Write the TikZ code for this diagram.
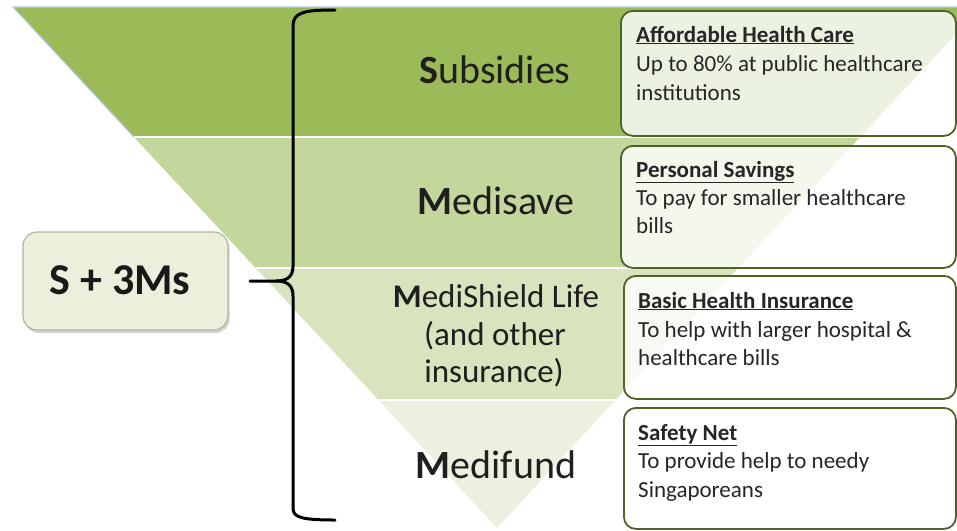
\documentclass[tikz,border=0pt]{standalone}
\usepackage{fontspec}
\setmainfont{Carlito}
\usetikzlibrary{shadows}
\definecolor{bandA}{HTML}{9BBB59}
\definecolor{bandB}{HTML}{C3D69B}
\definecolor{bandC}{HTML}{D7E4BD}
\definecolor{bandD}{HTML}{EBF1DE}
\definecolor{boxline}{HTML}{4F6228}
\definecolor{topline}{HTML}{B4C7E7}
\definecolor{smbox}{HTML}{EAF0DC}
\definecolor{smline}{HTML}{AEB6A0}
\begin{document}
\begin{tikzpicture}[x=1pt,y=-1pt,
  sep/.style={white,line width=2pt},
  rbox/.style={draw=boxline,line width=1.8pt,rounded corners=12pt,fill=white,fill opacity=0.82,text opacity=1,inner sep=0pt,anchor=north west},
  btxt/.style={font=\fontsize{23}{28}\selectfont,inner sep=0pt,anchor=base west,text=black!85},
  bigl/.style={font=\fontsize{40}{48}\selectfont,inner sep=0pt,anchor=base,text=black!88},
  midl/.style={font=\fontsize{33}{40}\selectfont,inner sep=0pt,anchor=base,text=black!88},
  bracestyle/.style={black,line width=3pt,line cap=round,line join=round}]
\useasboundingbox (0,0) rectangle (957,530);
\clip (0,0) rectangle (957,530);
% funnel bands
\fill[bandA] (13,7) -- (981,7) -- (860.1,137) -- (133.9,137) -- cycle;
\fill[bandB] (133.9,137) -- (860.1,137) -- (738.3,268) -- (255.7,268) -- cycle;
\fill[bandC] (255.7,268) -- (738.3,268) -- (615.5,400) -- (378.5,400) -- cycle;
\fill[bandD] (378.5,400) -- (615.5,400) -- (497,528) -- cycle;
\draw[sep] (133.9,137) -- (860.1,137);
\draw[sep] (255.7,268) -- (738.3,268);
\draw[sep] (378.5,400) -- (615.5,400);
\draw[topline,line width=1.2pt] (133.9,137) -- (13,7) -- (957,7);
% band labels
\node[bigl] (sub) at (495,83) {\textbf{S}ubsidies};
\node[bigl] (med) at (496,214) {\textbf{M}edisave};
\node[midl] (msa) at (496,307) {\textbf{M}ediShield Life};
\node[midl] (msb) at (495,345) {(and other};
\node[midl] (msc) at (494,382) {insurance)};
\node[bigl] (mfd) at (496,478) {\textbf{M}edifund};
% right boxes
\node[rbox,minimum width=335pt,minimum height=125pt] (boxa) at (620,10) {};
\node[rbox,minimum width=335pt,minimum height=122pt] (boxb) at (620,145) {};
\node[rbox,minimum width=332pt,minimum height=123pt] (boxc) at (623,275) {};
\node[rbox,minimum width=332pt,minimum height=121pt] (boxd) at (623,407) {};
\node[btxt] (ta1) at (636,42) {\underline{\textbf{Affordable Health Care}}};
\node[btxt] (ta2) at (636,71) {Up to 80\% at public healthcare};
\node[btxt] (ta3) at (636,100) {institutions};
\node[btxt] (tb1) at (636,177) {\underline{\textbf{Personal Savings}}};
\node[btxt] (tb2) at (636,205) {To pay for smaller healthcare};
\node[btxt] (tb3) at (636,233) {bills};
\node[btxt] (tc1) at (638,308) {\underline{\textbf{Basic Health Insurance}}};
\node[btxt] (tc2) at (638,337) {To help with larger hospital \&};
\node[btxt] (tc3) at (638,365) {healthcare bills};
\node[btxt] (td1) at (638,440) {\underline{\textbf{Safety Net}}};
\node[btxt] (td2) at (638,468) {To provide help to needy};
\node[btxt] (td3) at (638,497) {Singaporeans};
% S + 3Ms box
\node[draw=smline,line width=1.2pt,fill=smbox,rounded corners=14pt,minimum width=205pt,minimum height=98pt,
      drop shadow={shadow xshift=1.5pt,shadow yshift=-3pt,opacity=0.35}] (smb) at (125.5,281) {};
\node[font=\fontsize{44}{52}\selectfont\bfseries,inner sep=0pt,anchor=base,text=black!90] (smt) at (120,294) {S + 3Ms};
% brace
\coordinate (brtop) at (335,10);
\coordinate (brcusp) at (276,281);
\coordinate (brtip) at (250,281);
\coordinate (brbot) at (335,520);
\draw[bracestyle] (brtop) .. controls (305,10) and (293,12) .. (293,26) -- (293,266)
   .. controls (293,276) and (288,281) .. (brcusp) -- (brtip);
\draw[bracestyle] (brcusp) .. controls (288,281) and (293,286) .. (293,296) -- (293,508)
   .. controls (293,517) and (300,520) .. (brbot);
\end{tikzpicture}
\end{document}
